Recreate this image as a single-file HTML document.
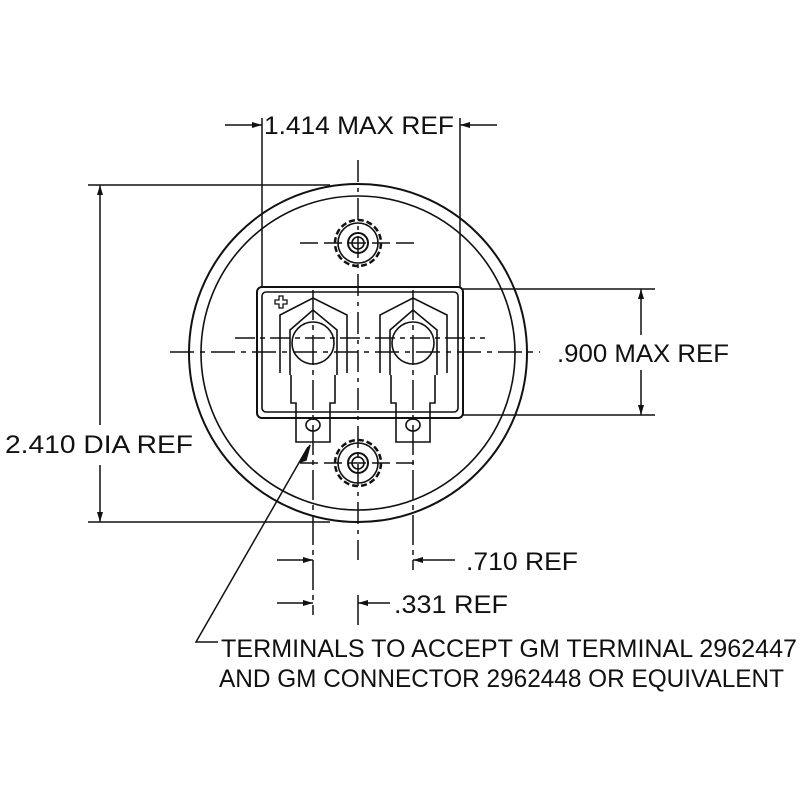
<!DOCTYPE html>
<html><head><style>body{margin:0;background:#fff}svg{display:block}text{font-family:"Liberation Sans",sans-serif;fill:#111}</style></head>
<body>
<svg width="800" height="800" viewBox="0 0 800 800" xmlns="http://www.w3.org/2000/svg">
<defs>
<marker id="a" viewBox="0 0 10 6" refX="10" refY="3" markerWidth="10" markerHeight="6" markerUnits="userSpaceOnUse" orient="auto"><path d="M0,0L10,3L0,6z" fill="#111"/></marker>
<g id="term" fill="none" stroke="#111" stroke-width="1.6">
<path d="M-33,373 V315 L0,298 L34,315 V373"/>
<path d="M-23,375 V330 L0,310 L24,330 V375"/>
<circle cx="0" cy="343" r="21"/>
<path d="M-22,375 V403 H-17 V442 H17 V403 H22 V375"/>
<ellipse cx="0" cy="425" rx="7" ry="6"/>
</g>
<g id="stud" fill="none" stroke="#111" stroke-width="1.6">
<circle r="23" stroke-dasharray="6 3" stroke-width="2.5"/>
<circle r="20"/>
<circle r="10" stroke-width="2"/>
<circle r="6"/>
</g>
</defs>
<g stroke="#111" stroke-width="1.5" fill="none">
<!-- circles -->
<circle cx="358" cy="353" r="169" stroke-width="2"/>
<circle cx="358" cy="353" r="157" stroke-width="1.6"/>
<!-- rectangle -->
<rect x="257" y="287" width="206" height="131" rx="5" stroke-width="2"/>
<rect x="262" y="292" width="196" height="120" rx="4" stroke-width="1.6"/>
<!-- centerlines -->
<path d="M358,160 V560" stroke-dasharray="22 6 4 6"/>
<path d="M358,595 V625"/>
<path d="M170,352 H540" stroke-dasharray="24 6 5 6"/>
<path d="M235,338 H485" stroke-dasharray="20 5 5 5"/>
<path d="M300,243 H420" stroke-dasharray="18 6"/>
<path d="M300,463 H420" stroke-dasharray="18 6"/>
<path d="M313,290 V615" stroke-dasharray="30 5 5 5"/>
<path d="M413,290 V570" stroke-dasharray="30 5 5 5"/>
<!-- 1.414 -->
<path d="M262,118 V287 M460,118 V287"/>
<path d="M225,125 H262" marker-end="url(#a)"/>
<path d="M497,125 H460" marker-end="url(#a)"/>
<!-- .900 -->
<path d="M463,289 H655 M463,415 H655"/>
<path d="M641,335 V289" marker-end="url(#a)"/>
<path d="M641,370 V415" marker-end="url(#a)"/>
<!-- 2.410 -->
<path d="M88,185 H330 M88,522 H330"/>
<path d="M100,425 V185" marker-end="url(#a)"/>
<path d="M100,465 V522" marker-end="url(#a)"/>
<!-- .710 / .331 -->
<path d="M277,560 H313" marker-end="url(#a)"/>
<path d="M455,560 H413" marker-end="url(#a)"/>
<path d="M277,603 H313" marker-end="url(#a)"/>
<path d="M390,603 H358" marker-end="url(#a)"/>
<!-- leader -->
<path d="M218,642 H196 L308,447"/>
<path d="M310,445 L300,462 L306,460z" fill="#111"/>
<!-- plus -->
<path d="M275,300 h4 v-4 h4 v4 h4 v4 h-4 v4 h-4 v-4 h-4 z" stroke-width="1.3"/>
</g>
<use href="#term" transform="translate(313,0)"/>
<use href="#term" transform="translate(413,0)"/>
<use href="#stud" transform="translate(358,243)"/>
<use href="#stud" transform="translate(358,463)"/>
<g font-size="25">
<text x="264" y="134" textLength="190" lengthAdjust="spacingAndGlyphs">1.414 MAX REF</text>
<text x="557" y="362" textLength="172" lengthAdjust="spacingAndGlyphs">.900 MAX REF</text>
<text x="5" y="453" textLength="188" lengthAdjust="spacingAndGlyphs">2.410 DIA REF</text>
<text x="466" y="570" textLength="112" lengthAdjust="spacingAndGlyphs">.710 REF</text>
<text x="394" y="613" textLength="114" lengthAdjust="spacingAndGlyphs">.331 REF</text>
<text x="221" y="657" textLength="576" lengthAdjust="spacingAndGlyphs">TERMINALS TO ACCEPT GM TERMINAL 2962447</text>
<text x="219" y="687" textLength="565" lengthAdjust="spacingAndGlyphs">AND GM CONNECTOR 2962448 OR EQUIVALENT</text>
</g>
</svg>
</body></html>
